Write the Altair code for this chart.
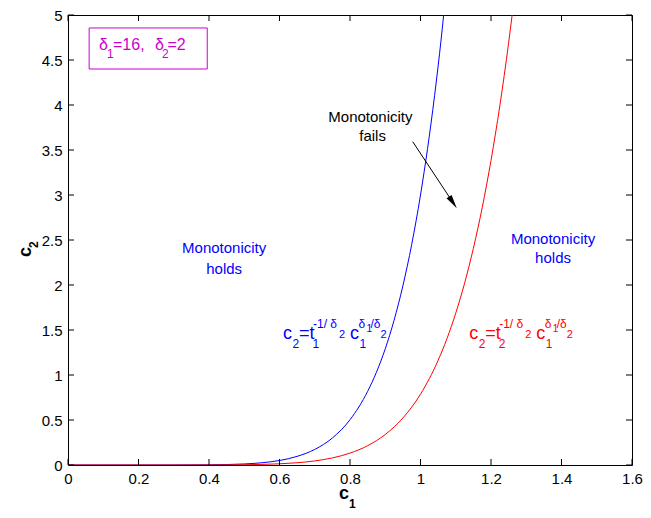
import altair as alt
import pandas as pd

# ---------------- data ----------------
c1_blue = [0.0, 0.1, 0.2, 0.3, 0.4, 0.5, 0.55, 0.6, 0.65, 0.7, 0.75, 0.8, 0.85, 0.875,
           0.9, 0.925, 0.95, 0.975, 1.0, 1.01, 1.02, 1.03, 1.04, 1.05, 1.058, 1.0657]
c2_blue = [0.0, 0.0, 0.0, 0.0002, 0.002, 0.0117, 0.025, 0.050, 0.096, 0.173, 0.300, 0.503,
           0.818, 1.031, 1.291, 1.608, 1.990, 2.450, 3.0, 3.249, 3.515, 3.800, 4.106, 4.433,
           4.71, 5.0]
c1_red = [0.0, 0.1, 0.2, 0.3, 0.4, 0.5, 0.55, 0.6, 0.65, 0.7, 0.75, 0.8, 0.85, 0.9, 0.95,
          1.0, 1.05, 1.075, 1.1, 1.125, 1.15, 1.175, 1.2, 1.225, 1.25, 1.26]
c2_red = [0.0, 0.0, 0.0, 0.0, 0.0005, 0.0031, 0.0066, 0.0132, 0.0251, 0.0453, 0.0788, 0.1321,
          0.2145, 0.3388, 0.5221, 0.787, 1.163, 1.403, 1.687, 2.019, 2.407, 2.859, 3.384,
          3.990, 4.691, 5.0]
x_ticks = [0, 0.2, 0.4, 0.6, 0.8, 1.0, 1.2, 1.4, 1.6]
y_ticks = [0, 0.5, 1, 1.5, 2, 2.5, 3, 3.5, 4, 4.5, 5]

# ---------------- layout constants ----------------
W, H = 564, 450
XMAX, YMAX = 1.6, 5.0
PXX = W / XMAX
PXY = H / YMAX
TICK = 6  # inward tick length, px

BLUE = "#0000ff"
RED = "#ff0000"
MAG = "#cc00cc"
FONT = "Liberation Sans"

xs = alt.Scale(domain=[0, XMAX], nice=False, zero=False)
ys = alt.Scale(domain=[0, YMAX], nice=False, zero=False)
x_axis = alt.Axis(values=x_ticks, format="~g", ticks=False, domain=False, grid=False,
                  labelFontSize=15, labelFont=FONT, labelColor="black", labelPadding=6,
                  title=None, labelFlush=False)
y_axis = alt.Axis(values=y_ticks, format="~g", ticks=False, domain=False, grid=False,
                  labelFontSize=15, labelFont=FONT, labelColor="black", labelPadding=6,
                  title=None, labelFlush=False)
X = alt.X("x:Q", scale=xs, axis=x_axis)
Y = alt.Y("y:Q", scale=ys, axis=y_axis)

# ---------------- curves ----------------
curves = pd.DataFrame(
    [{"x": a, "y": b, "s": "blue", "o": i} for i, (a, b) in enumerate(zip(c1_blue, c2_blue))]
    + [{"x": a, "y": b, "s": "red", "o": i} for i, (a, b) in enumerate(zip(c1_red, c2_red))]
)
blue_line = alt.Chart(curves[curves.s == "blue"]).mark_line(
    color=BLUE, strokeWidth=1, interpolate="monotone", clip=True
).encode(x=X, y=Y, order="o:Q")
red_line = alt.Chart(curves[curves.s == "red"]).mark_line(
    color=RED, strokeWidth=1, interpolate="monotone", clip=True
).encode(x=X, y=Y, order="o:Q")

# ---------------- inward ticks (MATLAB box style) ----------------
tx = TICK / PXX
ty = TICK / PXY
tick_rows = (
    [{"x": v, "x2": v, "y": 0, "y2": ty} for v in x_ticks]
    + [{"x": v, "x2": v, "y": YMAX - ty, "y2": YMAX} for v in x_ticks]
    + [{"x": 0, "x2": tx, "y": v, "y2": v} for v in y_ticks]
    + [{"x": XMAX - tx, "x2": XMAX, "y": v, "y2": v} for v in y_ticks]
)
ticks = alt.Chart(pd.DataFrame(tick_rows)).mark_rule(color="black", strokeWidth=1).encode(
    x=X, x2="x2:Q", y=Y, y2="y2:Q"
)

# ---------------- annotation box ----------------
box = alt.Chart(pd.DataFrame([{"x": 0.0600, "x2": 0.3950, "y": 4.40, "y2": 4.856}])).mark_rect(
    fill="white", stroke=MAG, strokeWidth=1
).encode(x=X, x2="x2:Q", y=Y, y2="y2:Q")

# ---------------- arrow ----------------
arrow_line = alt.Chart(pd.DataFrame([{"x": 0.978, "y": 3.592, "x2": 1.092, "y2": 2.917}])).mark_rule(
    color="black", strokeWidth=1
).encode(x=X, y=Y, x2="x2:Q", y2="y2:Q")
arrow_head = alt.Chart(pd.DataFrame([{"x": 1.092, "y": 2.917, "a": 146.4}])).mark_point(
    shape="M0,-1L0.43,1L-0.43,1Z", filled=True, color="black", opacity=1, size=196
).encode(x=X, y=Y, angle=alt.Angle("a:Q", scale=None))

# ---------------- text pieces ----------------
def piece(x0, y0, dx, dy, text, size, color):
    return {"x": x0 + dx / PXX, "y": y0 - dy / PXY, "text": text, "size": size, "color": color}

def formula(x0, y0, tsub, color):
    spec = [
        ("c", 0, 0, 18), ("2", 9.5, 8.5, 12), ("=t", 16, 0, 18), (tsub, 29.5, 8.5, 12),
        ("-1/ δ", 30, -11, 12), ("2", 56, -1, 11), ("c", 67, 0, 18), ("1", 76.5, 8.5, 12),
        ("δ", 75.5, -11, 12), ("1", 83.5, -7, 10), ("/δ", 87.5, -11, 12), ("2", 97.5, -1.5, 11),
    ]
    return [piece(x0, y0, dx, dy, t, s, color) for t, dx, dy, s in spec]

left_pieces = []
left_pieces += formula(0.610, 1.395, "1", BLUE)
left_pieces += formula(1.138, 1.400, "2", RED)
left_pieces += [piece(0.0880, 4.611, dx, dy, t, s, MAG) for t, dx, dy, s in [
    ("δ", 0, 0, 16), ("1", 8, 8, 12), ("=16,", 14, 0, 16),
    ("δ", 56, 0, 16), ("2", 63, 8, 12), ("=2", 68.5, 0, 16)]]

center_pieces = [
    {"x": 0.443, "y": 2.352, "text": "Monotonicity", "size": 15, "color": BLUE},
    {"x": 0.443, "y": 2.122, "text": "holds", "size": 15, "color": BLUE},
    {"x": 1.376, "y": 2.452, "text": "Monotonicity", "size": 15, "color": BLUE},
    {"x": 1.376, "y": 2.244, "text": "holds", "size": 15, "color": BLUE},
    {"x": 0.858, "y": 3.808, "text": "Monotonicity", "size": 15, "color": "black"},
    {"x": 0.864, "y": 3.603, "text": "fails", "size": 15, "color": "black"},
]

xtitle_pieces = [
    {"x": 0.769, "y": -0.375, "text": "c", "size": 18, "color": "black"},
    {"x": 0.797, "y": -0.480, "text": "1", "size": 12, "color": "black"},
]
ytitle_pieces = [
    {"x": -0.104, "y": 2.311, "text": "c", "size": 18, "color": "black"},
    {"x": -0.085, "y": 2.411, "text": "2", "size": 12, "color": "black"},
]

def text_layer(rows, align="left", weight="normal", angle=0):
    return alt.Chart(pd.DataFrame(rows)).mark_text(
        align=align, baseline="alphabetic", font=FONT, fontWeight=weight, angle=angle
    ).encode(
        x=X, y=Y, text="text:N",
        size=alt.Size("size:Q", scale=None),
        color=alt.Color("color:N", scale=None),
    )

chart = alt.layer(
    box,
    blue_line,
    red_line,
    ticks,
    arrow_line,
    arrow_head,
    text_layer(left_pieces),
    text_layer(center_pieces, align="center"),
    text_layer(xtitle_pieces, weight="bold"),
    text_layer(ytitle_pieces, weight="bold", angle=270),
).properties(
    width=W, height=H,
    padding={"left": 60, "top": 7, "right": 11, "bottom": 45},
    autosize=alt.AutoSizeParams(type="none"),
    background="white",
).configure_view(stroke="black", strokeWidth=1)

chart.save("out.html", embed_options={"renderer": "svg", "actions": False})
